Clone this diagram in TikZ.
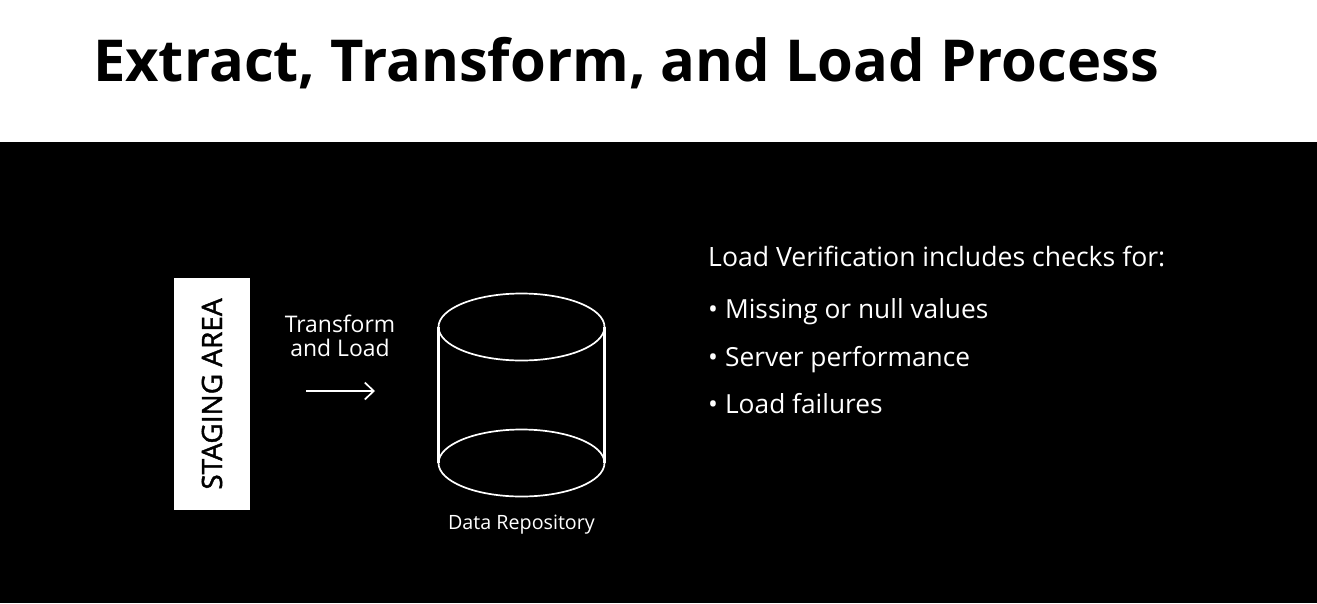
\documentclass[tikz,border=0pt]{standalone}
\usepackage{fontspec}
\setmainfont{Open Sans}
\newfontfamily\medfont[FakeBold=1.5]{Open Sans}
\usetikzlibrary{positioning,arrows.meta}
\tikzset{
    x=1pt,y=-1pt,
    linetxt/.style={text=white,anchor=base west,inner sep=0pt,font=\fontsize{26.3}{30}\selectfont},
    wire/.style={draw=white,line width=1.7pt},
    sidewire/.style={draw=white,line width=2.1pt},
}
\newcommand{\itemdot}{•\hspace{7pt}}
\begin{document}
\begin{tikzpicture}
    \useasboundingbox (0,0) rectangle (1317,603);
    % bands
    \fill[black] (0,0) rectangle (1317,603);
    \fill[white] (0,0) rectangle (1317,142);
    \node[anchor=base west,inner sep=0pt,font=\fontsize{57.8}{62}\selectfont\bfseries] (title) at (93,81) {Extract, Transform, and Load Process};
    % staging box
    \node[fill=white,minimum width=76pt,minimum height=232pt,inner sep=0pt] (staging) at (212,393.5) {};
    \node[rotate=90,inner sep=0pt,font=\fontsize{28}{30}\medfont] (stagingtxt) at (212,394) {STAGING AREA};
    % arrow
    \node[text=white,align=center,inner sep=0pt,font=\fontsize{22.9}{24}\selectfont] (tl) at (340,336) {Transform\\and Load};
    \coordinate (a1) at (306,391);
    \coordinate (a2) at (375,391);
    \draw[wire,-{Straight Barb[length=9pt,width=17pt]}] (a1)--(a2);
    % cylinder
    \coordinate (c1) at (521.5,327);
    \coordinate (c2) at (521.5,463);
    \draw[wire] (c1) ellipse (83 and 33.5);
    \draw[wire] (c2) ellipse (83 and 33.5);
    \draw[sidewire] (438.5,327)--(438.5,463);
    \draw[sidewire] (604.5,327)--(604.5,463);
    \node[text=white,inner sep=0pt,font=\fontsize{19.7}{22}\selectfont] (repo) at (521.5,525) {Data Repository};
    % list
    \node[linetxt,font=\fontsize{26.6}{30}\selectfont] (head) at (708,266) {Load Verification includes checks for:};
    \node[linetxt] (i1) at (708,318) {\itemdot Missing or null values};
    \node[linetxt] (i2) at (708,366) {\itemdot Server performance};
    \node[linetxt] (i3) at (708,413) {\itemdot Load failures};
\end{tikzpicture}
\end{document}
